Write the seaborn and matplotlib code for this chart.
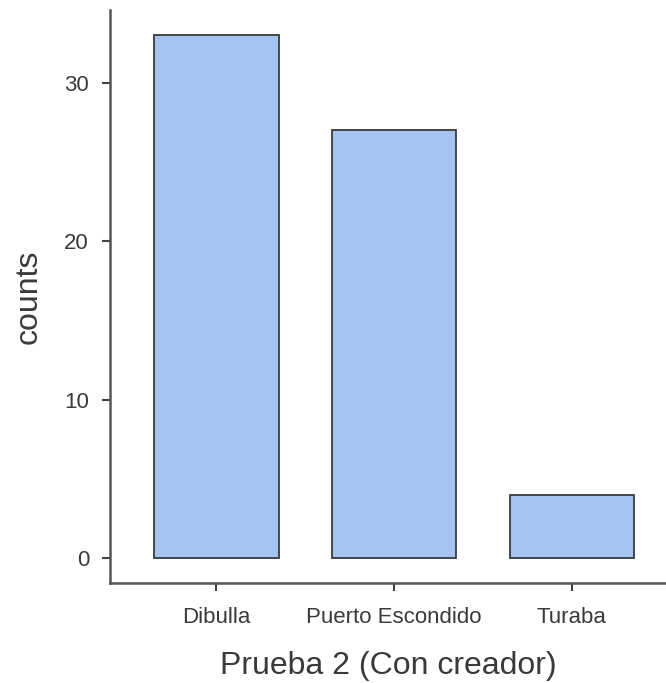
import matplotlib
matplotlib.use("Agg")
import matplotlib.pyplot as plt
import seaborn as sns
import pandas as pd

categories = ["Dibulla", "Puerto Escondido", "Turaba"]
counts = [33, 27, 4]
y_ticks = [0, 10, 20, 30]

sns.set_theme(style="ticks")
plt.rcParams['font.family'] = ['Liberation Sans', 'DejaVu Sans']

df = pd.DataFrame({"cat": categories, "counts": counts})

fig = plt.figure(figsize=(6.66, 6.83), dpi=100)
ax = fig.add_axes([0.165, 0.1464, 0.835, 0.839])
sns.barplot(data=df, x="cat", y="counts", color="#a4c3f0", edgecolor="#3a3a3a",
            linewidth=1.3, width=0.7, saturation=1, ax=ax)

ax.set_xlim(-0.6, 2.53)
ax.set_ylim(-1.58, 34.6)
ax.set_yticks(y_ticks)
ax.set_xlabel("Prueba 2 (Con creador)", fontsize=23, color="#3a3a3a", labelpad=17)
ax.set_ylabel("counts", fontsize=23, color="#3a3a3a", labelpad=15)
ax.tick_params(axis="both", labelsize=16, colors="#444444", length=6, width=1.5, pad=9)
ax.tick_params(axis="x", pad=11)
for lab in ax.get_xticklabels() + ax.get_yticklabels():
    lab.set_color("#3a3a3a")
for s in ["top", "right"]:
    ax.spines[s].set_visible(False)
for s in ["left", "bottom"]:
    ax.spines[s].set_color("#555555")
    ax.spines[s].set_linewidth(1.8)

fig.savefig("out.png", dpi=100)
